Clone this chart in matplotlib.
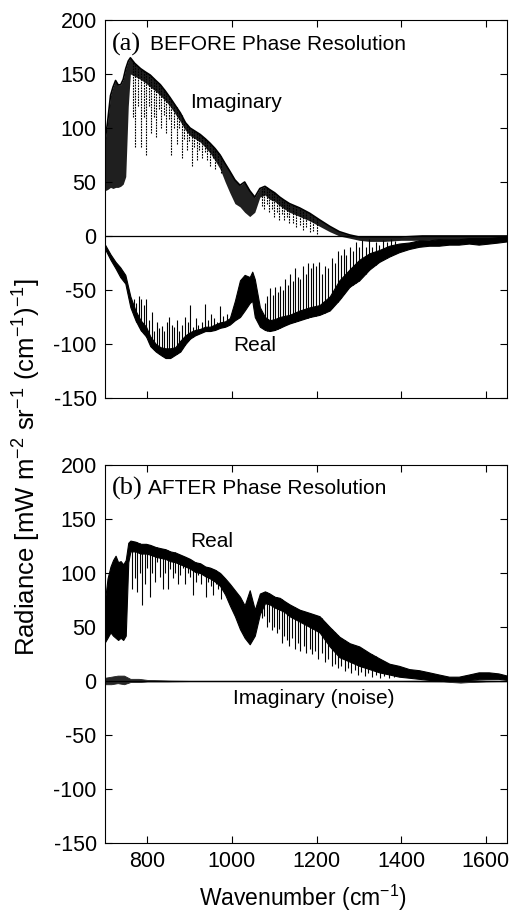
import numpy as np
import matplotlib.pyplot as plt

plt.rcParams['font.family'] = ['Liberation Sans', 'DejaVu Sans']
plt.rcParams['mathtext.fontset'] = 'custom'
plt.rcParams['mathtext.rm'] = 'Liberation Sans'
plt.rcParams['mathtext.it'] = 'Liberation Sans'
plt.rcParams['axes.unicode_minus'] = False

# ---- panel (a): BEFORE phase resolution ----
im_a_wn = [700, 706, 713, 719, 725, 731, 737, 743, 749, 755, 760, 770, 784, 795, 807, 820,
           831, 843, 854, 866, 878, 890, 901, 913, 925, 937, 948, 960, 972, 984, 995, 1007,
           1019, 1030, 1042, 1054, 1066, 1078, 1089, 1101, 1113, 1124, 1136, 1160, 1184, 1207,
           1231, 1254, 1278, 1301, 1325, 1360, 1400, 1450, 1500, 1550, 1600, 1650]
im_a_top = [88, 105, 130, 138, 144, 140, 140, 145, 155, 162, 165, 160, 155, 152, 149, 144,
            140, 134, 128, 121, 114, 105, 100, 97, 94, 90, 86, 81, 75, 67, 60, 52,
            47, 50, 42, 36, 44, 46, 43, 40, 36, 33, 30, 26, 21, 15,
            9, 4, 1, -1, -1, -1, -1, 0, 0, 0, 0, 0]
im_a_low = [42, 43, 45, 44, 45, 45, 46, 48, 55, 120, 150, 148, 145, 142, 138, 134,
            130, 125, 120, 113, 106, 98, 93, 90, 87, 82, 77, 70, 62, 50, 40, 30,
            27, 22, 18, 22, 36, 38, 34, 32, 28, 25, 22, 18, 14, 9,
            4, 0, -2, -4, -5, -5, -4, -4, -3, -3, -3, -2]
im_a_line_wn = [766, 772, 779, 786, 792, 797, 803, 809, 815, 821, 827, 833, 839, 845, 851, 857,
                863, 869, 875, 881, 887, 893, 899, 905, 911, 917, 923, 930, 936, 942, 948, 955,
                961, 967, 973, 1070, 1076, 1082, 1088, 1094, 1100, 1106, 1112, 1118, 1124, 1130,
                1136, 1145, 1152, 1160, 1168, 1176, 1184, 1192, 1200]
im_a_line_tip = [110, 82, 120, 82, 110, 75, 120, 95, 110, 92, 118, 100, 112, 95, 108, 75,
                 100, 85, 100, 72, 90, 80, 88, 65, 82, 70, 80, 72, 78, 70, 65, 72,
                 62, 68, 58, 28, 25, 30, 22, 25, 18, 22, 15, 20, 15, 18,
                 12, 12, 8, 10, 6, 8, 4, 5, 2]

re_a_wn = [700, 713, 725, 736, 748, 760, 772, 784, 797, 807, 820, 831, 843, 854, 866, 878,
           890, 901, 913, 925, 937, 948, 960, 972, 984, 995, 1007, 1019, 1030, 1042, 1048,
           1054, 1066, 1078, 1089, 1101, 1113, 1124, 1136, 1160, 1184, 1207, 1231, 1254,
           1278, 1301, 1325, 1348, 1372, 1395, 1419, 1442, 1466, 1489, 1513, 1536, 1560,
           1583, 1607, 1630, 1650]
re_a_hi = [-8, -17, -24, -29, -36, -56, -69, -78, -84, -93, -100, -103, -104, -104, -103, -97,
           -92, -89, -87, -86, -84, -84, -82, -80, -79, -76, -60, -41, -36, -38, -33,
           -40, -66, -75, -78, -77, -75, -74, -73, -69, -66, -64, -56, -41,
           -31, -22, -16, -13, -9, -7, -6, -4, -4, -3, -3, -3, -2,
           -2, -2, -1, -1]
re_a_lo = [-12, -22, -30, -38, -44, -66, -78, -87, -93, -102, -107, -110, -113, -113, -110, -107,
           -100, -95, -92, -90, -88, -88, -87, -85, -84, -82, -78, -75, -69, -62, -60,
           -75, -84, -87, -88, -87, -85, -83, -81, -78, -75, -73, -69, -59,
           -47, -41, -31, -24, -19, -15, -12, -10, -9, -9, -8, -8, -7,
           -8, -7, -6, -5]
re_a_line_wn = [768, 774, 780, 786, 792, 798, 804, 810, 816, 822, 828, 834, 840, 846, 852, 858,
                864, 870, 876, 882, 888, 896, 901, 908, 914, 920, 930, 937, 944, 951, 958, 965,
                972, 980, 988, 1070, 1078, 1084, 1090, 1096, 1102, 1108, 1114, 1120, 1126, 1132,
                1138, 1144, 1150, 1156, 1162, 1168, 1174, 1180, 1186, 1192, 1198, 1205, 1212,
                1220, 1228, 1236, 1244, 1250, 1258, 1264, 1270, 1278, 1285, 1292, 1300, 1308,
                1316, 1324, 1332, 1340, 1348, 1356, 1366, 1376, 1386]
re_a_line_tip = [-58, -62, -56, -58, -64, -58, -78, -70, -88, -80, -85, -83, -88, -80, -75, -82,
                 -84, -78, -88, -82, -75, -80, -64, -84, -76, -82, -80, -63, -78, -72, -76, -80,
                 -65, -74, -72, -72, -62, -56, -48, -55, -47, -52, -46, -50, -40, -45,
                 -35, -42, -30, -38, -40, -28, -35, -25, -30, -25, -28, -24, -35,
                 -28, -30, -20, -25, -14, -18, -12, -18, -10, -14, -6, -10, -4,
                 -10, -3, -10, -6, -8, -4, -6, -3, -5]

# ---- panel (b): AFTER phase resolution ----
re_b_wn = [700, 706, 713, 719, 725, 731, 737, 743, 749, 755, 760, 772, 784, 797, 807, 820,
           831, 843, 854, 866, 878, 890, 901, 913, 925, 937, 948, 960, 972, 984, 995, 1007,
           1019, 1030, 1042, 1054, 1066, 1078, 1089, 1101, 1113, 1124, 1136, 1160, 1184, 1207,
           1231, 1254, 1278, 1301, 1325, 1348, 1372, 1395, 1419, 1442, 1466, 1489, 1513, 1536,
           1560, 1583, 1607, 1630, 1650]
re_b_top = [75, 95, 106, 112, 116, 110, 111, 108, 112, 128, 130, 129, 127, 127, 126, 124,
            123, 122, 120, 119, 117, 115, 113, 110, 109, 106, 105, 103, 100, 95, 90, 84,
            78, 70, 84, 66, 81, 83, 81, 78, 77, 74, 71, 66, 63, 60,
            50, 41, 35, 32, 26, 21, 16, 14, 11, 10, 8, 6, 4, 4,
            6, 8, 8, 7, 5]
re_b_low = [36, 40, 45, 42, 40, 38, 40, 38, 42, 110, 120, 120, 118, 118, 117, 115,
            114, 113, 111, 110, 108, 106, 104, 101, 100, 97, 95, 92, 88, 80, 70, 60,
            48, 40, 34, 42, 62, 72, 71, 68, 66, 64, 60, 55, 50, 45,
            32, 22, 18, 14, 11, 8, 6, 4, 3, 2, 1, 1, 0, 0,
            1, 2, 2, 2, 1]
re_b_line_wn = [764, 770, 776, 782, 788, 794, 800, 806, 812, 818, 824, 830, 836, 842, 848, 854,
                860, 866, 872, 878, 884, 890, 896, 902, 908, 914, 920, 926, 932, 938, 944, 950,
                956, 962, 968, 974, 980, 1070, 1076, 1082, 1088, 1094, 1100, 1106, 1112, 1118,
                1124, 1130, 1136, 1142, 1150, 1156, 1162, 1170, 1176, 1184, 1190, 1196, 1204,
                1212, 1220, 1228, 1236, 1244, 1250, 1258, 1266, 1274, 1282, 1290, 1298, 1306,
                1314, 1322, 1330, 1340, 1350, 1360, 1372, 1384]
re_b_line_tip = [85, 95, 82, 100, 70, 90, 105, 78, 100, 92, 110, 96, 85, 100, 85, 104,
                 95, 100, 90, 98, 105, 90, 100, 96, 80, 92, 98, 90, 100, 78, 92, 88,
                 80, 90, 85, 76, 85, 58, 60, 50, 55, 47, 50, 44, 48, 35,
                 42, 38, 32, 40, 30, 35, 28, 32, 26, 30, 25, 28, 20,
                 26, 18, 20, 14, 16, 12, 14, 9, 12, 7, 10, 6, 8,
                 5, 7, 4, 6, 3, 5, 3, 4]

im_b_wn = [700, 715, 730, 745, 760, 780, 800, 850, 900, 1000, 1200, 1400, 1500, 1520, 1540,
           1560, 1600, 1650]
im_b_hi = [3, 4, 5, 5, 2, 2, 1, 0.5, 0.3, 0.3, 0.3, 0.3, 0.5, 1, 1.5, 1, 0.5, 0.3]
im_b_lo = [-3, -3, -2, -3, -1, -1, -0.5, -0.5, -0.3, -0.3, -0.3, -0.3, -0.5, -1, -1.5, -1, -0.5, -0.3]

yticks = [-150, -100, -50, 0, 50, 100, 150, 200]
xticks = [800, 1000, 1200, 1400, 1600]

fig = plt.figure(figsize=(5.13, 9.15), dpi=100)
ax_a = fig.add_axes([105 / 513, 1 - 398 / 915, 402 / 513, 378 / 915])
ax_b = fig.add_axes([105 / 513, 1 - 843 / 915, 402 / 513, 378 / 915])

dash = (0, (1.6, 0.9))

# panel a
ax_a.axhline(0, color='k', lw=0.9)
ax_a.fill_between(im_a_wn, im_a_low, im_a_top, color='0.12', lw=0)
ax_a.plot(im_a_wn, im_a_top, color='k', lw=1.2)
ax_a.vlines(im_a_line_wn, im_a_line_tip, np.interp(im_a_line_wn, im_a_wn, im_a_top),
            color='k', lw=0.8, linestyles=[dash])
ax_a.fill_between(re_a_wn, re_a_lo, re_a_hi, color='k', lw=0.8)
ax_a.vlines(re_a_line_wn, np.interp(re_a_line_wn, re_a_wn, re_a_lo), re_a_line_tip,
            color='k', lw=0.8)

# panel b
ax_b.axhline(0, color='k', lw=0.8)
ax_b.fill_between(im_b_wn, im_b_lo, im_b_hi, color='0.15', lw=0.6)
ax_b.fill_between(re_b_wn, re_b_low, re_b_top, color='k', lw=0.8)
ax_b.vlines(re_b_line_wn, re_b_line_tip, np.interp(re_b_line_wn, re_b_wn, re_b_top),
            color='k', lw=0.8)

for ax in (ax_a, ax_b):
    ax.set_xlim(700, 1650)
    ax.set_ylim(-150, 200)
    ax.set_xticks(xticks)
    ax.set_yticks(yticks)
    ax.tick_params(direction='in', length=5, width=0.8, top=True, right=True,
                   labelsize=15.5, pad=6)
    for s in ax.spines.values():
        s.set_linewidth(0.8)
ax_a.set_xticklabels([])

ax_a.text(0.017, 0.934, '(a)', transform=ax_a.transAxes, family='Liberation Serif',
          fontsize=19, va='center')
ax_a.text(0.112, 0.934, 'BEFORE Phase Resolution', transform=ax_a.transAxes,
          fontsize=15, va='center')
ax_b.text(0.017, 0.939, '(b)', transform=ax_b.transAxes, family='Liberation Serif',
          fontsize=19, va='center')
ax_b.text(0.107, 0.939, 'AFTER Phase Resolution', transform=ax_b.transAxes,
          fontsize=15, va='center')

ax_a.text(901, 124, 'Imaginary', fontsize=15, va='center')
ax_a.text(1002, -101, 'Real', fontsize=15, va='center')
ax_b.text(901, 129, 'Real', fontsize=15, va='center')
ax_b.text(1002, -16, 'Imaginary (noise)', fontsize=15, va='center')

fig.text(27 / 513, 1 - 467 / 915,
         r'Radiance [mW m$^{-2}$ sr$^{-1}$ (cm$^{-1}$)$^{-1}$]',
         rotation=90, ha='center', va='center', fontsize=18.5)
fig.text(303 / 513, 1 - 898 / 915, r'Wavenumber (cm$^{-1}$)',
         ha='center', va='center', fontsize=16.5)

fig.savefig('out.png', dpi=100)
